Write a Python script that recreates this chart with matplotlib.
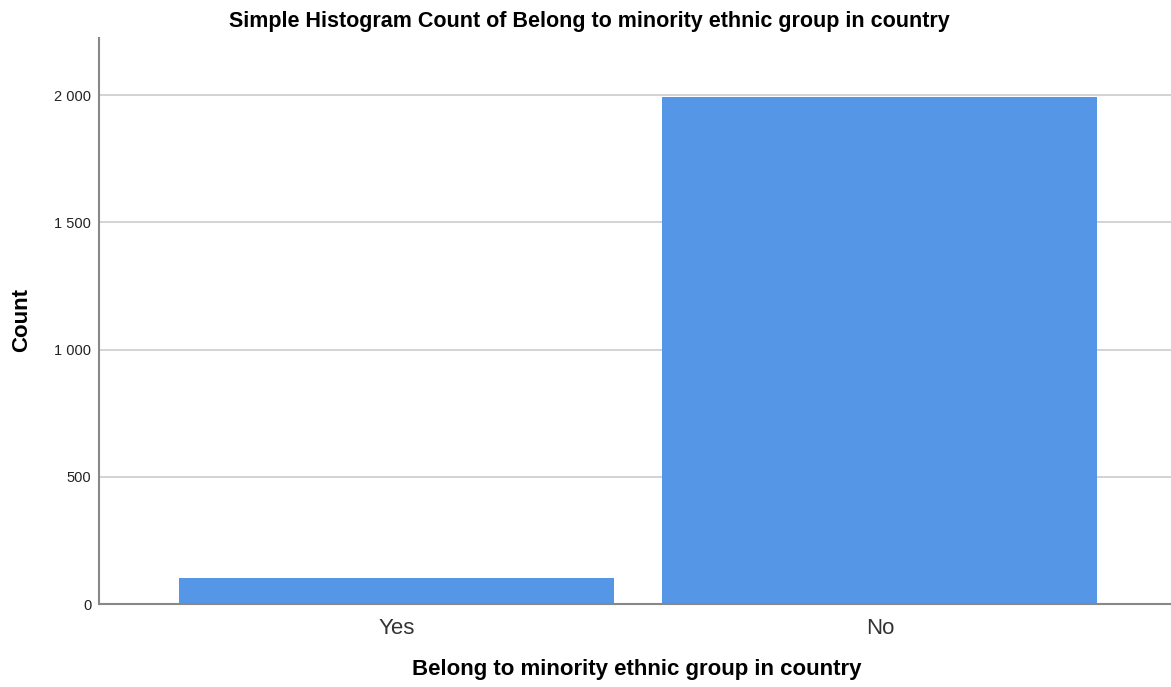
import matplotlib.pyplot as plt
from matplotlib.ticker import FuncFormatter

categories = ['Yes', 'No']
counts = [102, 1992]
y_ticks = [0, 500, 1000, 1500, 2000]

plt.rcParams['font.family'] = ['Liberation Sans', 'DejaVu Sans']

fig = plt.figure(figsize=(11.71, 6.87), dpi=100)
ax = fig.add_axes([0.0845, 0.1208, 0.9155, 0.8239])

x = list(range(len(categories)))
ax.bar(x, counts, width=0.9, color='#5596e6', zorder=2)

ax.set_xlim(-0.615, 1.602)
ax.set_ylim(0, 2224)
ax.set_yticks(y_ticks)
ax.yaxis.set_major_formatter(FuncFormatter(lambda v, p: f'{int(v):,}'.replace(',', ' ')))
ax.set_xticks(x)
ax.set_xticklabels(categories, fontsize=16, color='#333333')
ax.tick_params(axis='y', labelsize=10.5, length=0, pad=5.5, colors='#222222')
ax.tick_params(axis='x', length=0, pad=10)

ax.grid(axis='y', color='#cccccc', linewidth=1.2, zorder=1)
for side in ['top', 'right']:
    ax.spines[side].set_visible(False)
for side in ['left', 'bottom']:
    ax.spines[side].set_color('#888888')
    ax.spines[side].set_linewidth(1.5)

fig.text(0.544, 1 - 670 / 687, 'Belong to minority ethnic group in country',
         ha='center', va='center', fontsize=16, fontweight='bold')
fig.text(22 / 1171, 1 - 320 / 687, 'Count', rotation=90,
         ha='center', va='center', fontsize=16, fontweight='bold')
fig.text(0.5035, 1 - 21 / 687, 'Simple Histogram Count of Belong to minority ethnic group in country',
         ha='center', va='center', fontsize=15.5, fontweight='bold')

fig.savefig('out.png', dpi=100)
